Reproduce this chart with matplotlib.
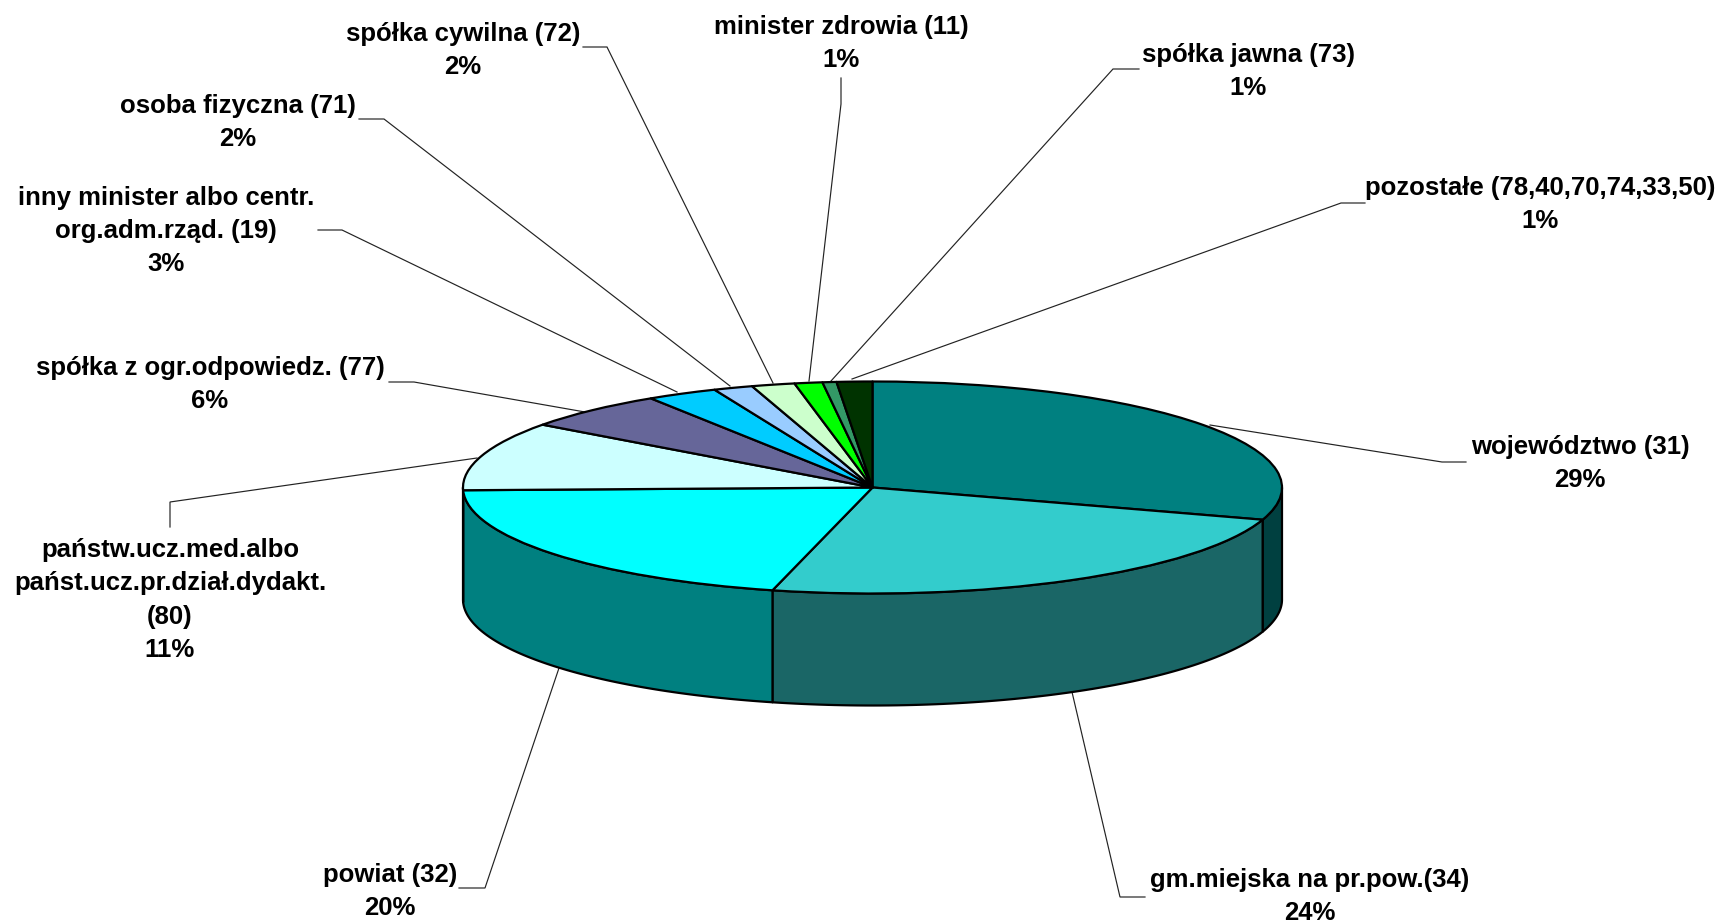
# -*- coding: utf-8 -*-
import numpy as np
import matplotlib
matplotlib.use("Agg")
import matplotlib.pyplot as plt
from matplotlib.colors import to_rgb

plt.rcParams['font.family'] = ['Liberation Sans', 'DejaVu Sans']

# udziały (kąty wycinków)
nazwy = ["województwo (31)", "gm.miejska na pr.pow.(34)", "powiat (32)",
         "państw.ucz.med.albo\npańst.ucz.pr.dział.dydakt.\n(80)",
         "spółka z ogr.odpowiedz. (77)",
         "inny minister albo centr.\norg.adm.rząd. (19)",
         "osoba fizyczna (71)", "spółka cywilna (72)", "minister zdrowia (11)",
         "spółka jawna (73)", "pozostałe (78,40,70,74,33,50)"]
wartosci = [29.9, 24.0, 20.65, 10.5, 5.8, 2.8, 1.55, 1.7, 1.1, 0.55, 1.4]
procenty = ["29%", "24%", "20%", "11%", "6%", "3%", "2%", "2%", "1%", "1%", "1%"]
kolory = ["#008080", "#33CCCC", "#00FFFF", "#CCFFFF", "#666699", "#00CCFF",
          "#99CCFF", "#CCFFCC", "#00FF00", "#339966", "#003300"]

# geometria w pikselach
W, H = 1722, 922
cx, cy = 872.5, 487.5
rx, ry = 409.5, 106.0
glebokosc = 112.0

# środek etykiety w pikselach
etykiety_xy = [(1580, 463.5), (1310, 896.5), (390, 891.5), (170, 600), (210, 384.5),
               (166, 231), (238, 122.5), (463, 50.5), (841, 43.5), (1248, 71.5),
               (1540, 204.5)]

# linie odniesienia w pikselach
linie = [[(1210, 425), (1442, 462), (1466, 462)],
         [(1072, 692), (1120, 897), (1145, 897)],
         [(559, 668), (485, 888), (459, 888)],
         [(477, 458), (170, 502), (170, 527)],
         [(585, 412), (414, 382), (389, 382)],
         [(677, 392), (342, 230), (318, 230)],
         [(730, 386), (384, 119), (359, 119)],
         [(773, 383), (607, 47), (583, 47)],
         [(809, 381), (841, 104), (841, 78)],
         [(831, 381), (1113, 69), (1139, 69)],
         [(852, 379), (1341, 203), (1365, 203)]]


def px(x, y):
    return (x - cx) / rx, (cy - y) / ry


fig = plt.figure(figsize=(W / 100, H / 100), dpi=100)
ax = fig.add_axes([0, 0, 1, 1])

ax.pie(wartosci, colors=kolory, startangle=90, counterclock=False, radius=1,
       wedgeprops=dict(edgecolor="black", linewidth=1.6, joinstyle="round", zorder=3))
ax.set_aspect("auto")
ax.set_xlim(px(0, 0)[0], px(W, 0)[0])
ax.set_ylim(px(0, H)[1], px(0, 0)[1])
ax.axis("off")

# ścianka boczna: tylko przednia połowa elipsy
dz = glebokosc / ry
udzial = np.array(wartosci) / sum(wartosci)
koniec = 90 - 360 * np.cumsum(udzial)
poczatek = np.r_[90, koniec[:-1]]
for a0, a1, kol in zip(poczatek, koniec, kolory):
    lo, hi = max(a1, -180), min(a0, 0)
    if hi <= lo:
        continue
    t = np.radians(np.linspace(hi, lo, 80))
    xs = np.cos(t)
    ys = np.sin(t)
    sciana_x = np.r_[xs, xs[::-1]]
    sciana_y = np.r_[ys, ys[::-1] - dz]
    ciemny = tuple(c * 0.5 for c in to_rgb(kol))
    ax.fill(sciana_x, sciana_y, facecolor=ciemny, edgecolor="black",
            linewidth=1.6, joinstyle="round", zorder=1)

for wsp in linie:
    p = np.array([px(*q) for q in wsp])
    ax.plot(p[:, 0], p[:, 1], color="#222222", lw=0.85, zorder=0.5,
            solid_joinstyle="miter")

for nazwa, proc, (x, y) in zip(nazwy, procenty, etykiety_xy):
    ax.text(*px(x, y), nazwa + "\n" + proc, ha="center", va="center",
            fontsize=18.55, fontweight="bold", color="black", linespacing=1.48)

fig.savefig("out.png", dpi=100, facecolor="white")
